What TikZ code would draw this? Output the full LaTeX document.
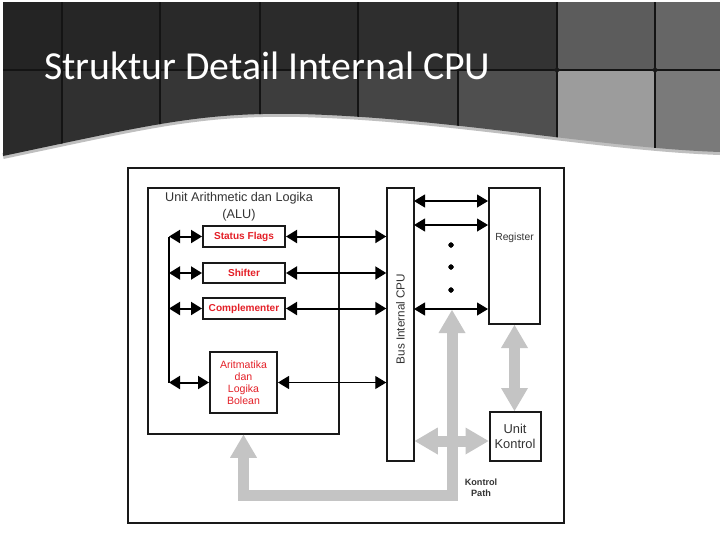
\documentclass[tikz,border=0pt]{standalone}
\usepackage{fontspec}
\setmainfont{Liberation Sans}
\newfontfamily\titlefont{Carlito}
\usepackage{tikz}
\usetikzlibrary{arrows.meta}
\definecolor{flagred}{RGB}{228,32,40}
\definecolor{pathgray}{RGB}{196,196,196}
\definecolor{labelgray}{RGB}{51,51,51}
\tikzset{
  cpubox/.style={draw=black!90, line width=0.6mm, inner sep=0pt},
  flagbox/.style={cpubox, text=flagred, font=\fontsize{8.6}{10}\selectfont\bfseries},
  datalink/.style={line width=0.6mm, {Triangle[length=3.3mm,width=3.9mm]}-{Triangle[length=3.3mm,width=3.9mm]}},
  thinlink/.style={datalink, line width=0.35mm},
  ctrlpath/.style={draw=pathgray, line width=3.3mm, line join=miter,
    {Triangle[length=6.9mm,width=8.1mm,line width=0pt]}-{Triangle[length=6.9mm,width=8.1mm,line width=0pt]}},
}
\newcommand{\biarrow}[3][datalink]{\draw[#1] (#2) -- (#3);}

\begin{document}
\begin{tikzpicture}[x=0.3mm, y=-0.3mm]
\useasboundingbox (0,0) rectangle (720,540);
\fill[white] (0,0) rectangle (720,540);
% header band
\draw[black!25, line width=1.8mm] (3,156) .. controls (150,125) and (200,112) .. (300,114) .. controls (450,118) and (600,148) .. (720,152);
\begin{scope}
\clip (3,2) -- (720,2) -- (720,152) .. controls (600,148) and (450,118) .. (300,114) .. controls (200,112) and (150,125) .. (3,156) -- cycle;
\foreach \xa/\xb/\ct/\cb in {3/62/86/83, 62/160/85/81, 160/260/84/79, 260/358/83/76, 358/458/82/73, 458/557/80/69, 557/655/64/39, 655/720/60/52}{
  \fill[black!\ct] (\xa,2) rectangle (\xb,70);
  \fill[black!\cb] (\xa,70) rectangle (\xb,160);
}
\foreach \x in {62,160,260,358,458,557,655}
  \draw[black!92, line width=0.6mm] (\x,0) -- (\x,160);
\draw[black!92, line width=0.6mm] (0,70) -- (720,70);
\foreach \x in {557,655}
  \fill[black!90] (\x,58) .. controls (\x,70) .. (\x+12,70) .. controls (\x,70) .. (\x,82) .. controls (\x,70) .. (\x-12,70) .. controls (\x,70) .. (\x,58);
\end{scope}
\node[anchor=base west, inner sep=0pt, text=white, font=\titlefont\fontsize{33.9}{40}\selectfont] (title) at (44,79) {Struktur Detail Internal CPU};

% diagram
\draw[black!90, line width=0.6mm] (128,168) rectangle (564,523);
\node[cpubox, line width=0.45mm, minimum width=57.3mm, minimum height=73.8mm] (alu) at (243.5,311) {};
\node[text=labelgray, align=center, font=\fontsize{10.8}{14.5}\selectfont] (alutitle) at (239,206.5) {Unit Arithmetic dan Logika\\(ALU)};
\node[flagbox, minimum width=24.6mm, minimum height=6.3mm] (flags) at (244,236.5) {Status Flags};
\node[flagbox, minimum width=24.6mm, minimum height=6mm] (shift) at (244,273) {Shifter};
\node[flagbox, minimum width=24.6mm, minimum height=6.3mm] (comp) at (244,308.5) {Complementer};
\node[cpubox, text=flagred, align=center, font=\fontsize{9}{10.2}\selectfont, minimum width=20.1mm, minimum height=18.3mm] (arith) at (243.5,382.5) {Aritmatika\\dan\\Logika\\Bolean};
\node[cpubox, line width=0.45mm, minimum width=8.1mm, minimum height=81.9mm] (bus) at (400.5,324.5) {};
\node[rotate=90, text=labelgray, font=\fontsize{10}{12}\selectfont] (buslabel) at (400.5,319) {Bus Internal CPU};
\node[cpubox, minimum width=15.3mm, minimum height=40.8mm] (reg) at (514.5,256) {};
\node[text=labelgray, font=\fontsize{8.8}{10}\selectfont] (reglabel) at (514.5,238) {Register};
\node[cpubox, align=center, text=labelgray, font=\fontsize{11}{12.8}\selectfont, minimum width=15.3mm, minimum height=14.7mm] (kon) at (515,436.5) {Unit\\Kontrol};
\node[text=labelgray, align=center, font=\bfseries\fontsize{7.8}{9.4}\selectfont] (kplabel) at (481,487.5) {Kontrol\\Path};

% control paths
\coordinate (path top) at (452,310);
\coordinate (path turn) at (452,495);
\coordinate (alu turn) at (243.5,495);
\coordinate (kon in) at (452,441);
\draw[ctrlpath] (path top) -- (path turn) -- (alu turn) -- (alu.south);
\draw[ctrlpath] (bus.east |- kon in) -- (kon.west |- kon in);
\draw[ctrlpath] (reg.south) -- (reg.south |- kon.north);

% data paths
\coordinate (spine top) at (169,236.5);
\coordinate (spine bot) at (169,382.5);
\draw[line width=0.6mm] (spine top) -- (spine bot);
\biarrow{spine top}{flags.west}
\biarrow{spine top |- shift.west}{shift.west}
\biarrow{spine top |- comp.west}{comp.west}
\biarrow{spine bot}{arith.west}
\biarrow{flags.east}{flags.east -| bus.west}
\biarrow{shift.east}{shift.east -| bus.west}
\biarrow{comp.east}{comp.east -| bus.west}
\biarrow[thinlink]{arith.east}{arith.east -| bus.west}
\coordinate (r1) at (414,201);
\coordinate (r2) at (414,225);
\coordinate (r3) at (414,309);
\foreach \r in {r1,r2,r3}
  \biarrow[thinlink]{\r}{\r -| reg.west}
\foreach \y in {245,267,290}
  \fill (451,\y) circle[radius=0.75mm];
\end{tikzpicture}
\end{document}
